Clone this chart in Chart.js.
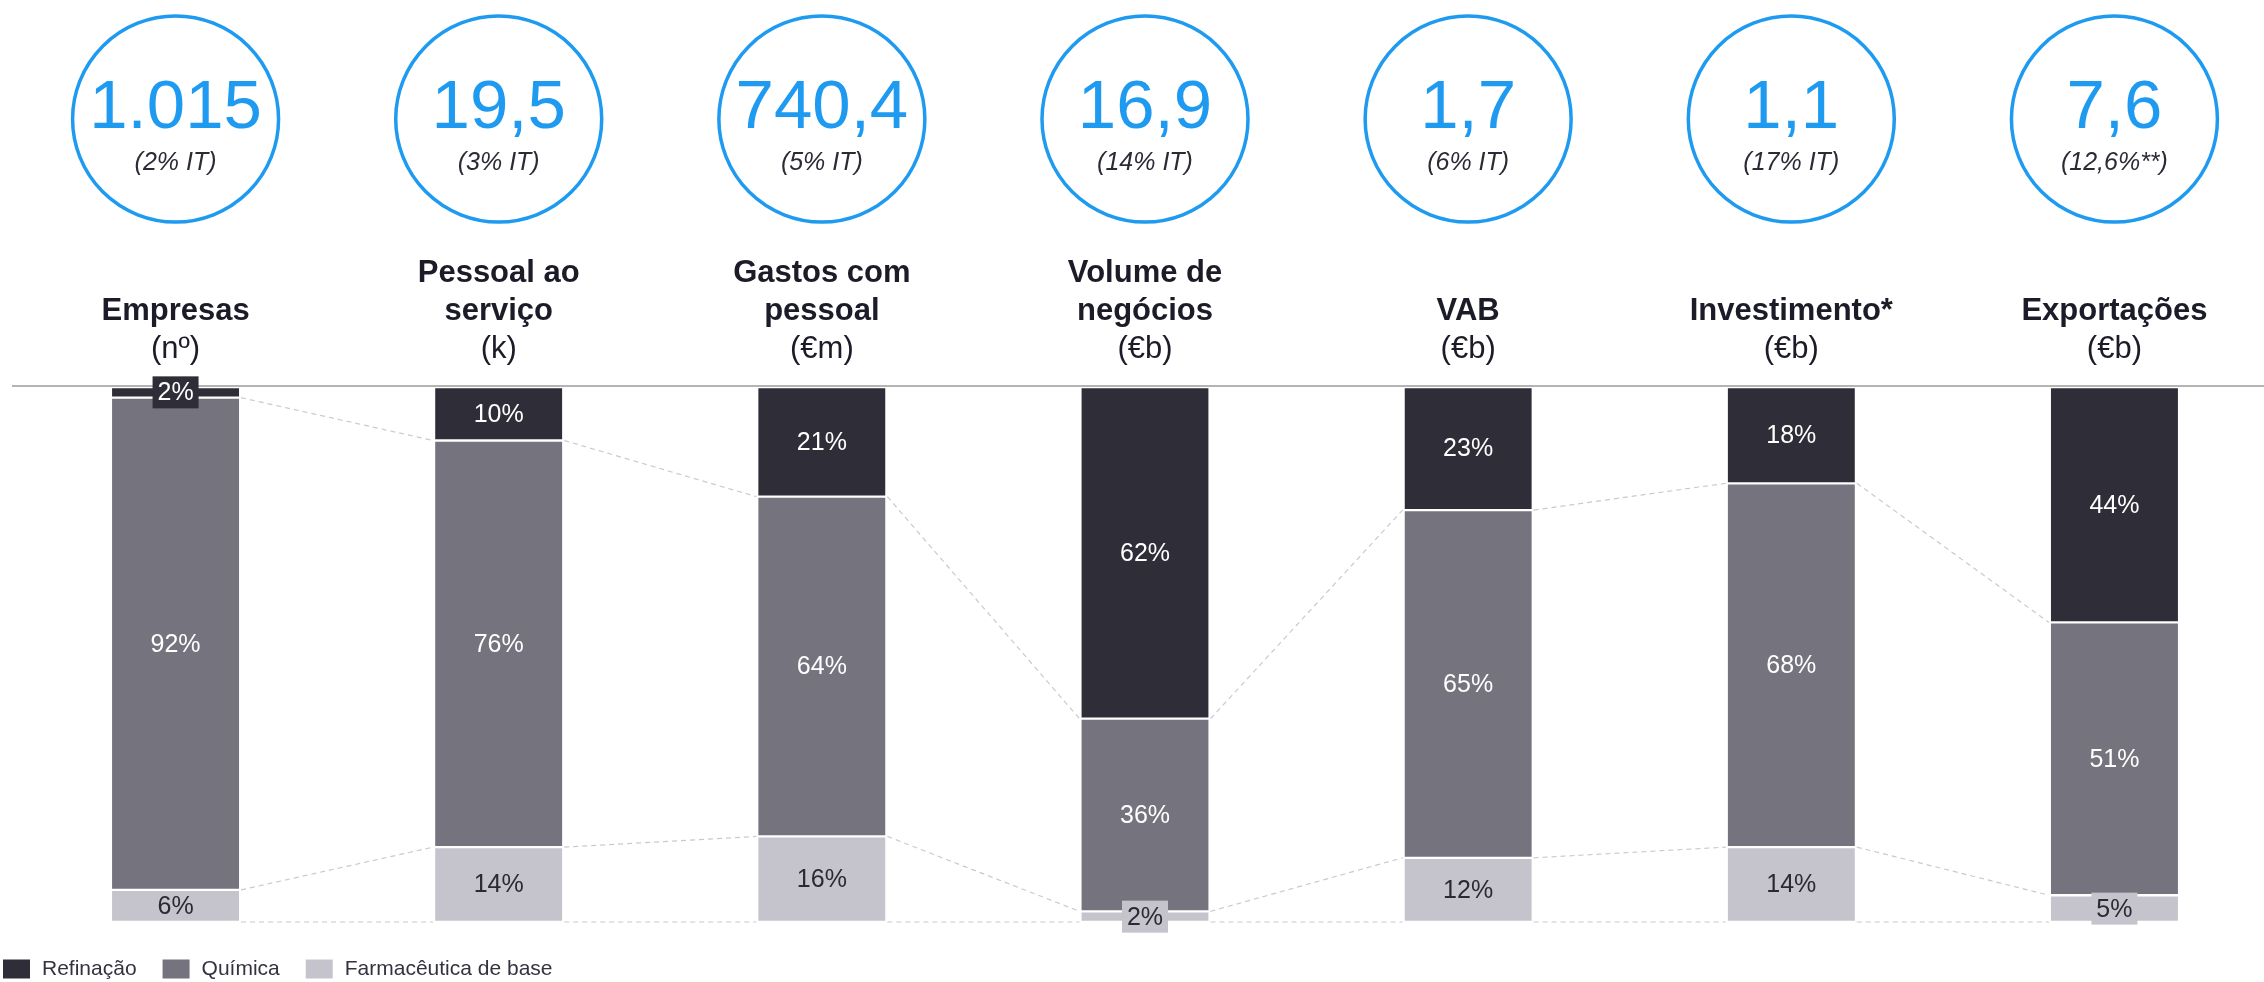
<!DOCTYPE html>
<html>
<head>
<meta charset="utf-8">
<script src="https://cdn.jsdelivr.net/npm/chart.js@4.4.1/dist/chart.umd.min.js"></script>
<style>
  html, body { margin: 0; padding: 0; background: #fff; overflow: hidden; }
  #wrap { position: relative; width: 2276px; height: 982px; }
</style>
</head>
<body>
<div id="wrap"><canvas id="chart" width="2276" height="982"></canvas></div>
<script>
// ===== DATA =====
const categories = ['Empresas', 'Pessoal ao serviço', 'Gastos com pessoal', 'Volume de negócios', 'VAB', 'Investimento*', 'Exportações'];
const titleLines = [['Empresas'], ['Pessoal ao', 'serviço'], ['Gastos com', 'pessoal'], ['Volume de', 'negócios'], ['VAB'], ['Investimento*'], ['Exportações']];
const units = ['(nº)', '(k)', '(€m)', '(€b)', '(€b)', '(€b)', '(€b)'];
const totals = ['1.015', '19,5', '740,4', '16,9', '1,7', '1,1', '7,6'];
const totalNotes = ['(2% IT)', '(3% IT)', '(5% IT)', '(14% IT)', '(6% IT)', '(17% IT)', '(12,6%**)'];

const refinacao = [2, 10, 20.5, 62, 23, 18, 44];
const quimica = [92, 76, 63.5, 36, 65, 68, 51];
const farmaceutica = [6, 14, 16, 2, 12, 14, 5];

const FONT = "'Liberation Sans', Arial, Helvetica, sans-serif";
const BLUE = '#1e9bf0';
const colors = ['#2f2e38', '#74737e', '#c5c4cc'];

// ===== DECORATIONS: circles, titles, labels, connectors, legend =====
const decorPlugin = {
  id: 'decor',
  afterDatasetsDraw(chart) {
    const ctx = chart.ctx;
    const area = chart.chartArea;
    const xs = chart.scales.x;
    ctx.save();

    // top rule
    ctx.strokeStyle = '#9b9b9b';
    ctx.lineWidth = 1.5;
    ctx.beginPath();
    ctx.moveTo(12, area.top - 1);
    ctx.lineTo(chart.width, area.top - 1);
    ctx.stroke();

    // dashed connectors between neighbouring bars
    ctx.strokeStyle = '#c9c9d2';
    ctx.lineWidth = 1.2;
    ctx.setLineDash([5, 4]);
    chart.data.datasets.forEach((ds, d) => {
      const bars = chart.getDatasetMeta(d).data;
      for (let i = 0; i < bars.length - 1; i++) {
        const a = bars[i], b = bars[i + 1];
        ctx.beginPath();
        ctx.moveTo(a.x + a.width / 2 + 2, a.y);
        ctx.lineTo(b.x - b.width / 2 - 2, b.y);
        ctx.stroke();
      }
    });
    ctx.setLineDash([]);

    // value labels
    ctx.font = '25px ' + FONT;
    ctx.textAlign = 'center';
    ctx.textBaseline = 'middle';
    chart.data.datasets.forEach((ds, d) => {
      const bars = chart.getDatasetMeta(d).data;
      bars.forEach((el, i) => {
        const v = ds.data[i];
        const cy = (el.y + el.base) / 2;
        if (v < 5.5) {
          ctx.fillStyle = ds.backgroundColor;
          ctx.fillRect(el.x - 23, cy - 16, 46, 32);
        }
        ctx.fillStyle = d === 2 ? '#2a2a35' : '#ffffff';
        ctx.fillText(Math.round(v) + '%', el.x, cy + 1);
      });
    });

    // circles + titles above the bars
    categories.forEach((c, i) => {
      const cx = xs.getPixelForValue(i);
      const cyc = area.top - 268;
      ctx.strokeStyle = BLUE;
      ctx.lineWidth = 3.5;
      ctx.beginPath();
      ctx.arc(cx, cyc, 103, 0, Math.PI * 2);
      ctx.stroke();

      ctx.textBaseline = 'alphabetic';
      ctx.fillStyle = BLUE;
      ctx.font = '69px ' + FONT;
      ctx.fillText(totals[i], cx, cyc + 9);
      ctx.fillStyle = '#2b2b35';
      ctx.font = 'italic 25px ' + FONT;
      ctx.fillText(totalNotes[i], cx, cyc + 51);

      const lines = titleLines[i];
      ctx.fillStyle = '#1c1c28';
      ctx.font = 'bold 31px ' + FONT;
      lines.forEach((t, k) => {
        ctx.fillText(t, cx, area.top - 67 - (lines.length - 1 - k) * 38);
      });
      ctx.font = '31px ' + FONT;
      ctx.fillText(units[i], cx, area.top - 29);
    });

    // legend
    let lx = 3;
    const ly = chart.height - 13;
    ctx.font = '21px ' + FONT;
    ctx.textAlign = 'left';
    ctx.textBaseline = 'middle';
    chart.data.datasets.forEach((ds) => {
      ctx.fillStyle = ds.backgroundColor;
      ctx.fillRect(lx, ly - 9.5, 27, 19);
      lx += 27 + 12;
      ctx.fillStyle = '#333340';
      ctx.fillText(ds.label, lx, ly);
      lx += ctx.measureText(ds.label).width + 26;
    });

    ctx.restore();
  }
};

const barStyle = {
  barThickness: 127,
  borderColor: '#ffffff',
  borderWidth: { top: 1.5, bottom: 1.5, left: 0, right: 0 },
  borderSkipped: false
};

new Chart(document.getElementById('chart'), {
  type: 'bar',
  data: {
    labels: categories,
    datasets: [
      Object.assign({ label: 'Refinação', data: refinacao, backgroundColor: colors[0] }, barStyle),
      Object.assign({ label: 'Química', data: quimica, backgroundColor: colors[1] }, barStyle),
      Object.assign({ label: 'Farmacêutica de base', data: farmaceutica, backgroundColor: colors[2] }, barStyle)
    ]
  },
  options: {
    responsive: false,
    animation: false,
    devicePixelRatio: 1,
    layout: { padding: { top: 387, bottom: 60, left: 14, right: 0 } },
    scales: {
      x: { stacked: true, display: false },
      y: { stacked: true, display: false, reverse: true, min: 0, max: 100 }
    },
    plugins: {
      legend: { display: false },
      tooltip: { enabled: false }
    }
  },
  plugins: [decorPlugin]
});
</script>
</body>
</html>
